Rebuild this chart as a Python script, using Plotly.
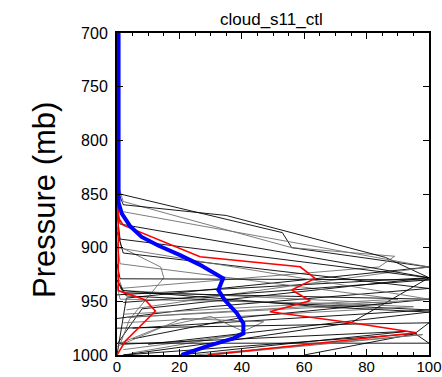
import plotly.graph_objects as go

# ---- data (x = cloud fraction %, p = pressure mb) ----
mean_x = [0.5, 0.5, 0.5, 1.5, 4.2, 7.9, 13.2, 20.2, 26.6, 34.0, 32.5, 34.6, 38.4, 40.5, 40.5, 37.3, 28.7, 20.7]
mean_p = [700, 840, 858, 868, 880, 890, 898, 907, 916, 928.6, 939.5, 949, 961, 970.5, 980, 984.5, 992, 1000]

red1_x = [0, 0, 2, 26.6, 58.7, 63.5, 56, 61.9, 49, 76.8, 96, 29]
red1_p = [700, 870, 879, 908.5, 917.8, 928.6, 939.5, 949.5, 959.7, 970.6, 979.3, 1000]

red2_x = [0.4, 0.4, 9, 12.3, 2.7, 0]
red2_p = [700, 940, 948.5, 959, 987, 1000]

profile_x = [
    [0, 1, 53, 56, 100, 3, 0],
    [0, 2, 56, 89, 84, 1],
    [0, 2, 35, 86, 100, 8, 0],
    [0, 1, 100, 45, 3],
    [0, 1, 100, 0],
    [0, 1.5, 14, 15, 4, 1],
    [0, 1, 100, 75, 40, 2],
    [0, 2, 100, 30, 0],
    [0, 1, 90, 2],
    [0, 1, 100, 2],
    [0, 2, 88, 3],
    [0, 3, 100, 5],
    [0, 1, 70, 95, 2],
    [0, 2, 100, 40, 5],
    [1, 14, 30, 40.5, 38, 2],
    [0, 21, 47, 38, 5],
    [0, 100, 95.5, 100, 0.5],
    [2, 96, 69, 60],
    [1.5, 93, 20],
    [25, 98, 30],
    [2, 65, 100, 10],
    [0, 100, 3],
]
profile_p = [
    [835, 850, 886, 900, 918, 947, 1000],
    [838, 857, 900, 908, 918, 938],
    [845, 860, 870, 909, 928, 957, 990],
    [850, 866, 918, 940, 958],
    [858, 878, 928, 944],
    [880, 900, 918, 928, 967, 990],
    [868, 892, 928, 970, 985, 1000],
    [885, 905, 938, 955, 966],
    [895, 915, 948, 962],
    [915, 929, 930, 951],
    [925, 940, 952, 965],
    [930, 945, 958, 975],
    [935, 948, 952, 955, 970],
    [930, 942, 948, 965, 985],
    [989, 974, 964, 978, 981.5, 995],
    [992, 966, 969, 981.5, 998],
    [975, 970, 980, 989, 989],
    [1000, 980, 995, 1000],
    [990, 978, 1000],
    [1000, 981, 1000],
    [940, 955, 960, 990],
    [900, 948, 965],
]
profile_shade = ["k", "g", "k", "g", "k", "g", "k", "k", "g", "k", "g", "k",
                 "g", "k", "g", "g", "k", "k", "k", "g", "k", "g"]

x_ticks = [0, 20, 40, 60, 80, 100]
y_ticks = [700, 750, 800, 850, 900, 950, 1000]

shade_color = {"k": "#000000", "g": "#6e6e6e"}

fig = go.Figure()
for xs, ps, s in zip(profile_x, profile_p, profile_shade):
    fig.add_trace(go.Scatter(x=xs, y=ps, mode="lines",
                             line=dict(color=shade_color[s], width=0.9),
                             hoverinfo="skip", showlegend=False))
fig.add_trace(go.Scatter(x=red2_x, y=red2_p, mode="lines",
                         line=dict(color="#ff0000", width=1.6), showlegend=False))
fig.add_trace(go.Scatter(x=red1_x, y=red1_p, mode="lines",
                         line=dict(color="#ff0000", width=1.6), showlegend=False))
fig.add_trace(go.Scatter(x=mean_x, y=mean_p, mode="lines",
                         line=dict(color="#0000ff", width=4), showlegend=False,
                         cliponaxis=False))

font = "Liberation Sans, Arial, sans-serif"
fig.update_layout(
    width=442, height=377,
    margin=dict(l=117, r=13, t=33, b=22, autoexpand=False),
    paper_bgcolor="white", plot_bgcolor="white",
    font=dict(family=font, size=16, color="black"),
    showlegend=False,
    xaxis=dict(range=[0, 100], tickvals=x_ticks, ticks="inside", ticklen=6,
               tickwidth=1, tickcolor="black", showline=True, linecolor="black",
               linewidth=2, mirror="ticks", showgrid=False, zeroline=False,
               automargin=False, ticklabeloverflow="allow", ticklabelstandoff=-3,
               minor=dict(ticks="inside", ticklen=3, dtick=5, tickcolor="black",
                          showgrid=False),
               tickfont=dict(size=15)),
    yaxis=dict(range=[1000, 700], tickvals=y_ticks, ticks="inside", ticklen=6,
               tickwidth=1, tickcolor="black", showline=True, linecolor="black",
               linewidth=2, mirror="ticks", showgrid=False, zeroline=False,
               automargin=False, ticklabeloverflow="allow",
               ticklabelstandoff=4, tickfont=dict(size=16)),
)
fig.add_annotation(text="cloud_s11_ctl", xref="paper", yref="paper",
                   x=(271 - 117) / 312, y=(355 - 19) / 322, showarrow=False,
                   font=dict(size=17), xanchor="center", yanchor="middle")
fig.add_annotation(text="Pressure (mb)", xref="paper", yref="paper",
                   x=(45 - 117) / 312, y=(355 - 200) / 322, showarrow=False,
                   textangle=-90, font=dict(size=31),
                   xanchor="center", yanchor="middle")

fig.write_html("out.html")
